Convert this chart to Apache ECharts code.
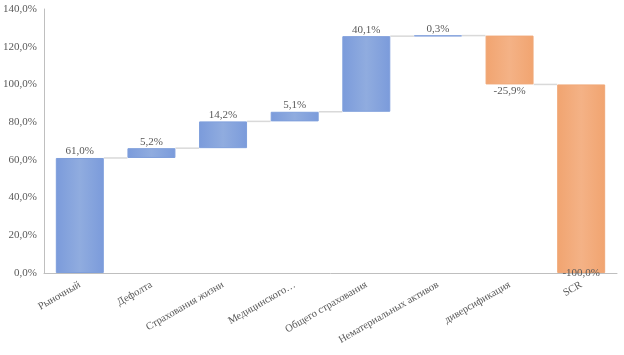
<!DOCTYPE html>
<html><head><meta charset="utf-8">
<script src="https://cdn.jsdelivr.net/npm/echarts@6/dist/echarts.min.js"></script>
<style>html,body{margin:0;padding:0;background:#fff}#c{width:624px;height:355px}</style>
</head><body><div id="c"></div>
<script>
var categories = ['Рыночный','Дефолта','Страхования жизни','Медицинского…','Общего страхования','Нематериальных активов','диверсификация','SCR'];
var deltas = [61.0, 5.2, 14.2, 5.1, 40.1, 0.3, -25.9, -100.0];
var isTotal = [false,false,false,false,false,false,false,true];
var yTicks = [0,20,40,60,80,100,120,140];

var base=[], vis=[], levels=[], run=0;
for (var i=0;i<deltas.length;i++){
  if (isTotal[i]) { base.push(0); vis.push(run); levels.push(run); continue; }
  var next = run + deltas[i];
  base.push(Math.min(run,next));
  vis.push(Math.abs(deltas[i]));
  run = Math.round(next*10)/10;
  levels.push(run);
}
function fmt(v){ return v.toFixed(1).replace('.',',')+'%'; }
var blue = {type:'linear',x:0,y:0,x2:1,y2:0,colorStops:[{offset:0,color:'#7b9bdb'},{offset:0.5,color:'#90acdf'},{offset:1,color:'#7b9bdb'}]};
var orange = {type:'linear',x:0,y:0,x2:1,y2:0,colorStops:[{offset:0,color:'#f1a470'},{offset:0.5,color:'#f4b286'},{offset:1,color:'#f1a470'}]};
var visData = vis.map(function(v,i){
  var neg = deltas[i] < 0;
  var lblPos = isTotal[i] ? 'insideBottom' : (neg ? 'bottom' : 'top');
  return {value:v, itemStyle:{color: neg?orange:blue, borderColor: neg?'#f0a878':'#7f9fdc', borderWidth:1},
    label:{show:true, position:lblPos, distance: isTotal[i]?-6:1, formatter: fmt(deltas[i])}};
});
var connData = [];
for (var j=0;j<categories.length-1;j++) connData.push([j, levels[j]]);

var chart = echarts.init(document.getElementById('c'));
chart.setOption({
  animation:false,
  grid:{left:44,right:7,top:9,bottom:82},
  textStyle:{fontFamily:'Liberation Serif'},
  xAxis:{type:'category',data:categories,
    axisLine:{lineStyle:{color:'#bfbfbf',width:1}},axisTick:{show:false},
    axisLabel:{rotate:30,color:'#595959',fontSize:10.5,fontFamily:'Liberation Serif',interval:0,margin:11}},
  yAxis:{type:'value',min:0,max:140,interval:20,
    axisLine:{show:true,lineStyle:{color:'#bfbfbf',width:1}},axisTick:{show:false},splitLine:{show:false},
    axisLabel:{color:'#595959',fontSize:11,fontFamily:'Liberation Serif',margin:7,
      formatter:function(v){return yTicks.indexOf(v)>=0? v.toFixed(1).replace('.',',')+'%':'';}}},
  series:[
    {type:'bar',stack:'w',data:base,barWidth:'67%',itemStyle:{color:'transparent'},silent:true},
    {type:'bar',stack:'w',data:visData,barWidth:'67%',
      label:{color:'#595959',fontSize:11,fontFamily:'Liberation Serif'}},
    {type:'custom',data:connData,z:1,silent:true,
      renderItem:function(params,api){
        var idx=api.value(0), lvl=api.value(1);
        var p1=api.coord([idx,lvl]), p2=api.coord([idx+1,lvl]);
        var bw=api.size([1,0])[0]*0.67/2;
        return {type:'line',shape:{x1:p1[0]+bw,y1:p1[1],x2:p2[0]-bw,y2:p2[1]},style:{stroke:'#d9d9d9',lineWidth:1.5}};
      }}
  ]
});
</script></body></html>
